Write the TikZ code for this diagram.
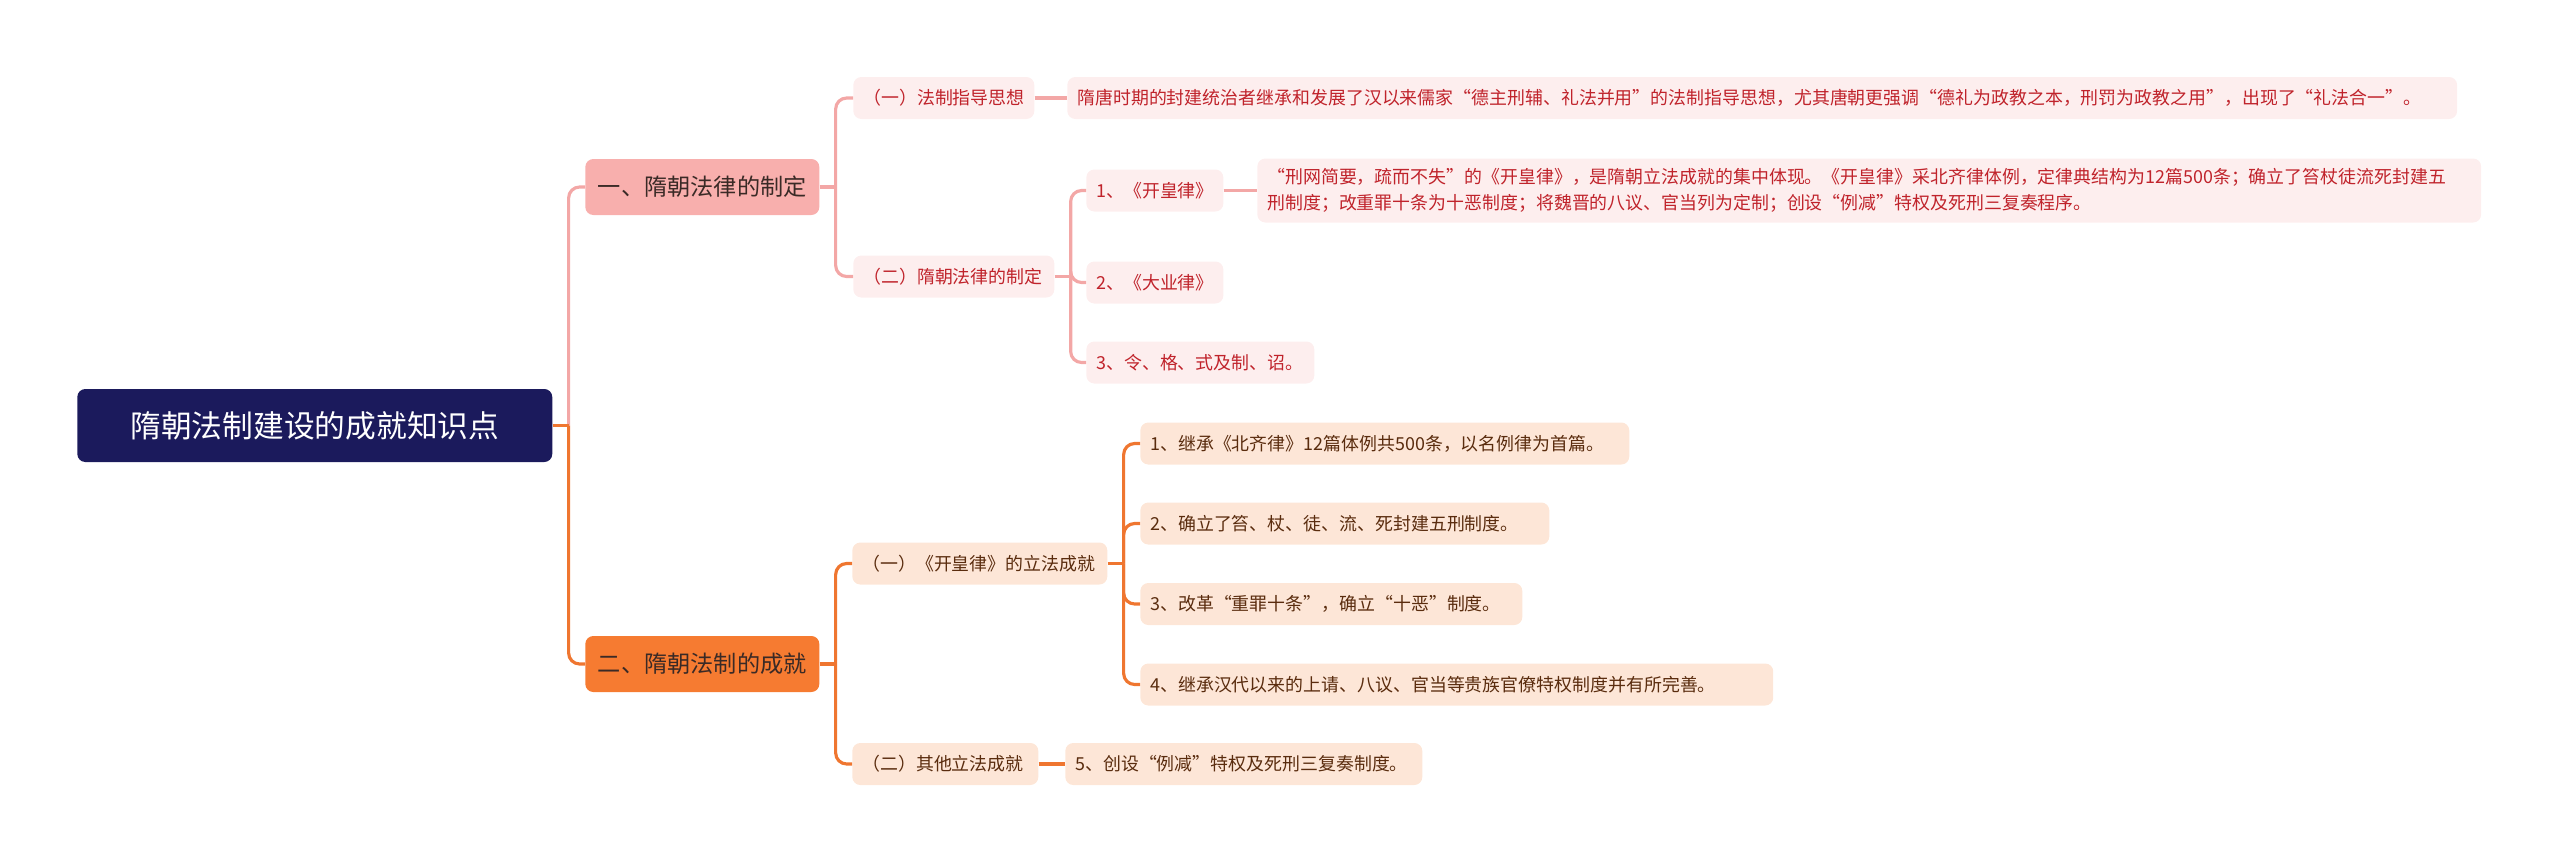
\documentclass[tikz,border=0pt]{standalone}
\usepackage{fontspec}
\setmainfont{Noto Sans CJK SC}
\usepackage{tikz}
\usetikzlibrary{calc}
\definecolor{suinavy}{HTML}{1B1A5C}
\definecolor{suipink}{HTML}{F8AFAD}
\definecolor{suipinklight}{HTML}{FDEEEE}
\definecolor{suipinkline}{HTML}{F3A7A6}
\definecolor{suired}{HTML}{C0232B}
\definecolor{suiorange}{HTML}{F67B31}
\definecolor{suiorangelight}{HTML}{FDE6D7}
\definecolor{suiorangeline}{HTML}{EF7630}
\definecolor{suibrown}{HTML}{5A2C0E}
\definecolor{suidark}{HTML}{3A2A26}

\begin{document}
\begin{tikzpicture}[x=0.02cm,y=-0.02cm,
  box/.style={anchor=west,rounded corners=4.5pt,align=left,inner xsep=0.2cm,inner ysep=0pt,minimum height=0.84cm,font=\fontsize{10.2}{15}\selectfont},
  pinkbox/.style={box,fill=suipinklight,text=suired},
  orangebox/.style={box,fill=suiorangelight,text=suibrown},
  topic/.style={box,align=center,inner xsep=0pt,minimum height=1.12cm,minimum width=4.68cm,font=\fontsize{13.2}{16}\selectfont},
  title/.style={box,fill=suinavy,text=white,minimum height=1.46cm,minimum width=9.5cm,align=center,font=\fontsize{17.5}{20}\selectfont},
  pinkline/.style={draw=suipinkline,line width=1.8pt,rounded corners=0.22cm},
  orangeline/.style={draw=suiorangeline,line width=1.8pt,rounded corners=0.22cm}
]
\useasboundingbox (0,0) rectangle (2560,863);
\node[title] (root) at (77,425.5) {隋朝法制建设的成就知识点};
\node[topic,fill=suipink,text=suidark] (lawmake) at (585,187) {一、隋朝法律的制定};
\node[topic,fill=suiorange,text=suidark] (achieve) at (585,664) {二、隋朝法制的成就};
\node[pinkbox,text width=3.22cm] (guide) at (853,98) {（一）法制指导思想};
\node[pinkbox,text width=27.4cm] (guidetxt) at (1067,98) {隋唐时期的封建统治者继承和发展了汉以来儒家“德主刑辅、礼法并用”的法制指导思想，尤其唐朝更强调“德礼为政教之本，刑罚为政教之用”，出现了“礼法合一”。};
\node[pinkbox,text width=3.62cm] (make) at (853,276.5) {（二）隋朝法律的制定};
\node[pinkbox,text width=2.34cm] (kaihuang) at (1086,190.5) {1、《开皇律》};
\node[pinkbox,text width=24.08cm,minimum height=1.28cm] (kaihuangtxt) at (1257,190.5) {“刑网简要，疏而不失”的《开皇律》，是隋朝立法成就的集中体现。《开皇律》采北齐律体例，定律典结构为12篇500条；确立了笞杖徒流死封建五\\刑制度；改重罪十条为十恶制度；将魏晋的八议、官当列为定制；创设“例减”特权及死刑三复奏程序。};
\node[pinkbox,text width=2.34cm] (daye) at (1086,282.5) {2、《大业律》};
\node[pinkbox,text width=4.16cm] (ling) at (1086,362.5) {3、令、格、式及制、诏。};
\node[orangebox,text width=4.7cm] (kha) at (852,563.5) {（一）《开皇律》的立法成就};
\node[orangebox,text width=9.38cm] (inherit) at (1140,443.5) {1、继承《北齐律》12篇体例共500条，以名例律为首篇。};
\node[orangebox,text width=7.78cm] (fivepun) at (1140,523.5) {2、确立了笞、杖、徒、流、死封建五刑制度。};
\node[orangebox,text width=7.24cm] (tenevil) at (1140,604) {3、改革“重罪十条”，确立“十恶”制度。};
\node[orangebox,text width=12.26cm] (privilege) at (1140,684.5) {4、继承汉代以来的上请、八议、官当等贵族官僚特权制度并有所完善。};
\node[orangebox,text width=3.32cm] (other) at (852,764) {（二）其他立法成就};
\node[orangebox,text width=6.74cm] (lijian) at (1065,764) {5、创设“例减”特权及死刑三复奏制度。};
\coordinate (s0) at ($(root.east)+(16,0)$);
\coordinate (s1) at ($(lawmake.east)+(16,0)$);
\coordinate (s2) at ($(make.east)+(16,0)$);
\coordinate (s3) at ($(achieve.east)+(16,0)$);
\coordinate (s4) at ($(kha.east)+(16,0)$);
\draw[pinkline] (s0) |- (lawmake.west);
\draw[orangeline] (s0) |- (achieve.west);
\draw[orangeline] (root.east) -- (s0);
\draw[pinkline] (lawmake.east) -- (s1);
\draw[pinkline] (s1) |- (guide.west);
\draw[pinkline] (s1) |- (make.west);
\draw[pinkline] (guide.east) -- (guidetxt.west);
\draw[pinkline] (make.east) -- (s2);
\draw[pinkline] (s2) |- (kaihuang.west);
\draw[pinkline] (s2) |- (daye.west);
\draw[pinkline] (s2) |- (ling.west);
\draw[pinkline] (kaihuang.east) -- (kaihuangtxt.west);
\draw[orangeline] (achieve.east) -- (s3);
\draw[orangeline] (s3) |- (kha.west);
\draw[orangeline] (s3) |- (other.west);
\draw[orangeline] (kha.east) -- (s4);
\draw[orangeline] (s4) |- (inherit.west);
\draw[orangeline] (s4) |- (fivepun.west);
\draw[orangeline] (s4) |- (tenevil.west);
\draw[orangeline] (s4) |- (privilege.west);
\draw[orangeline] (other.east) -- (lijian.west);
\end{tikzpicture}
\end{document}
